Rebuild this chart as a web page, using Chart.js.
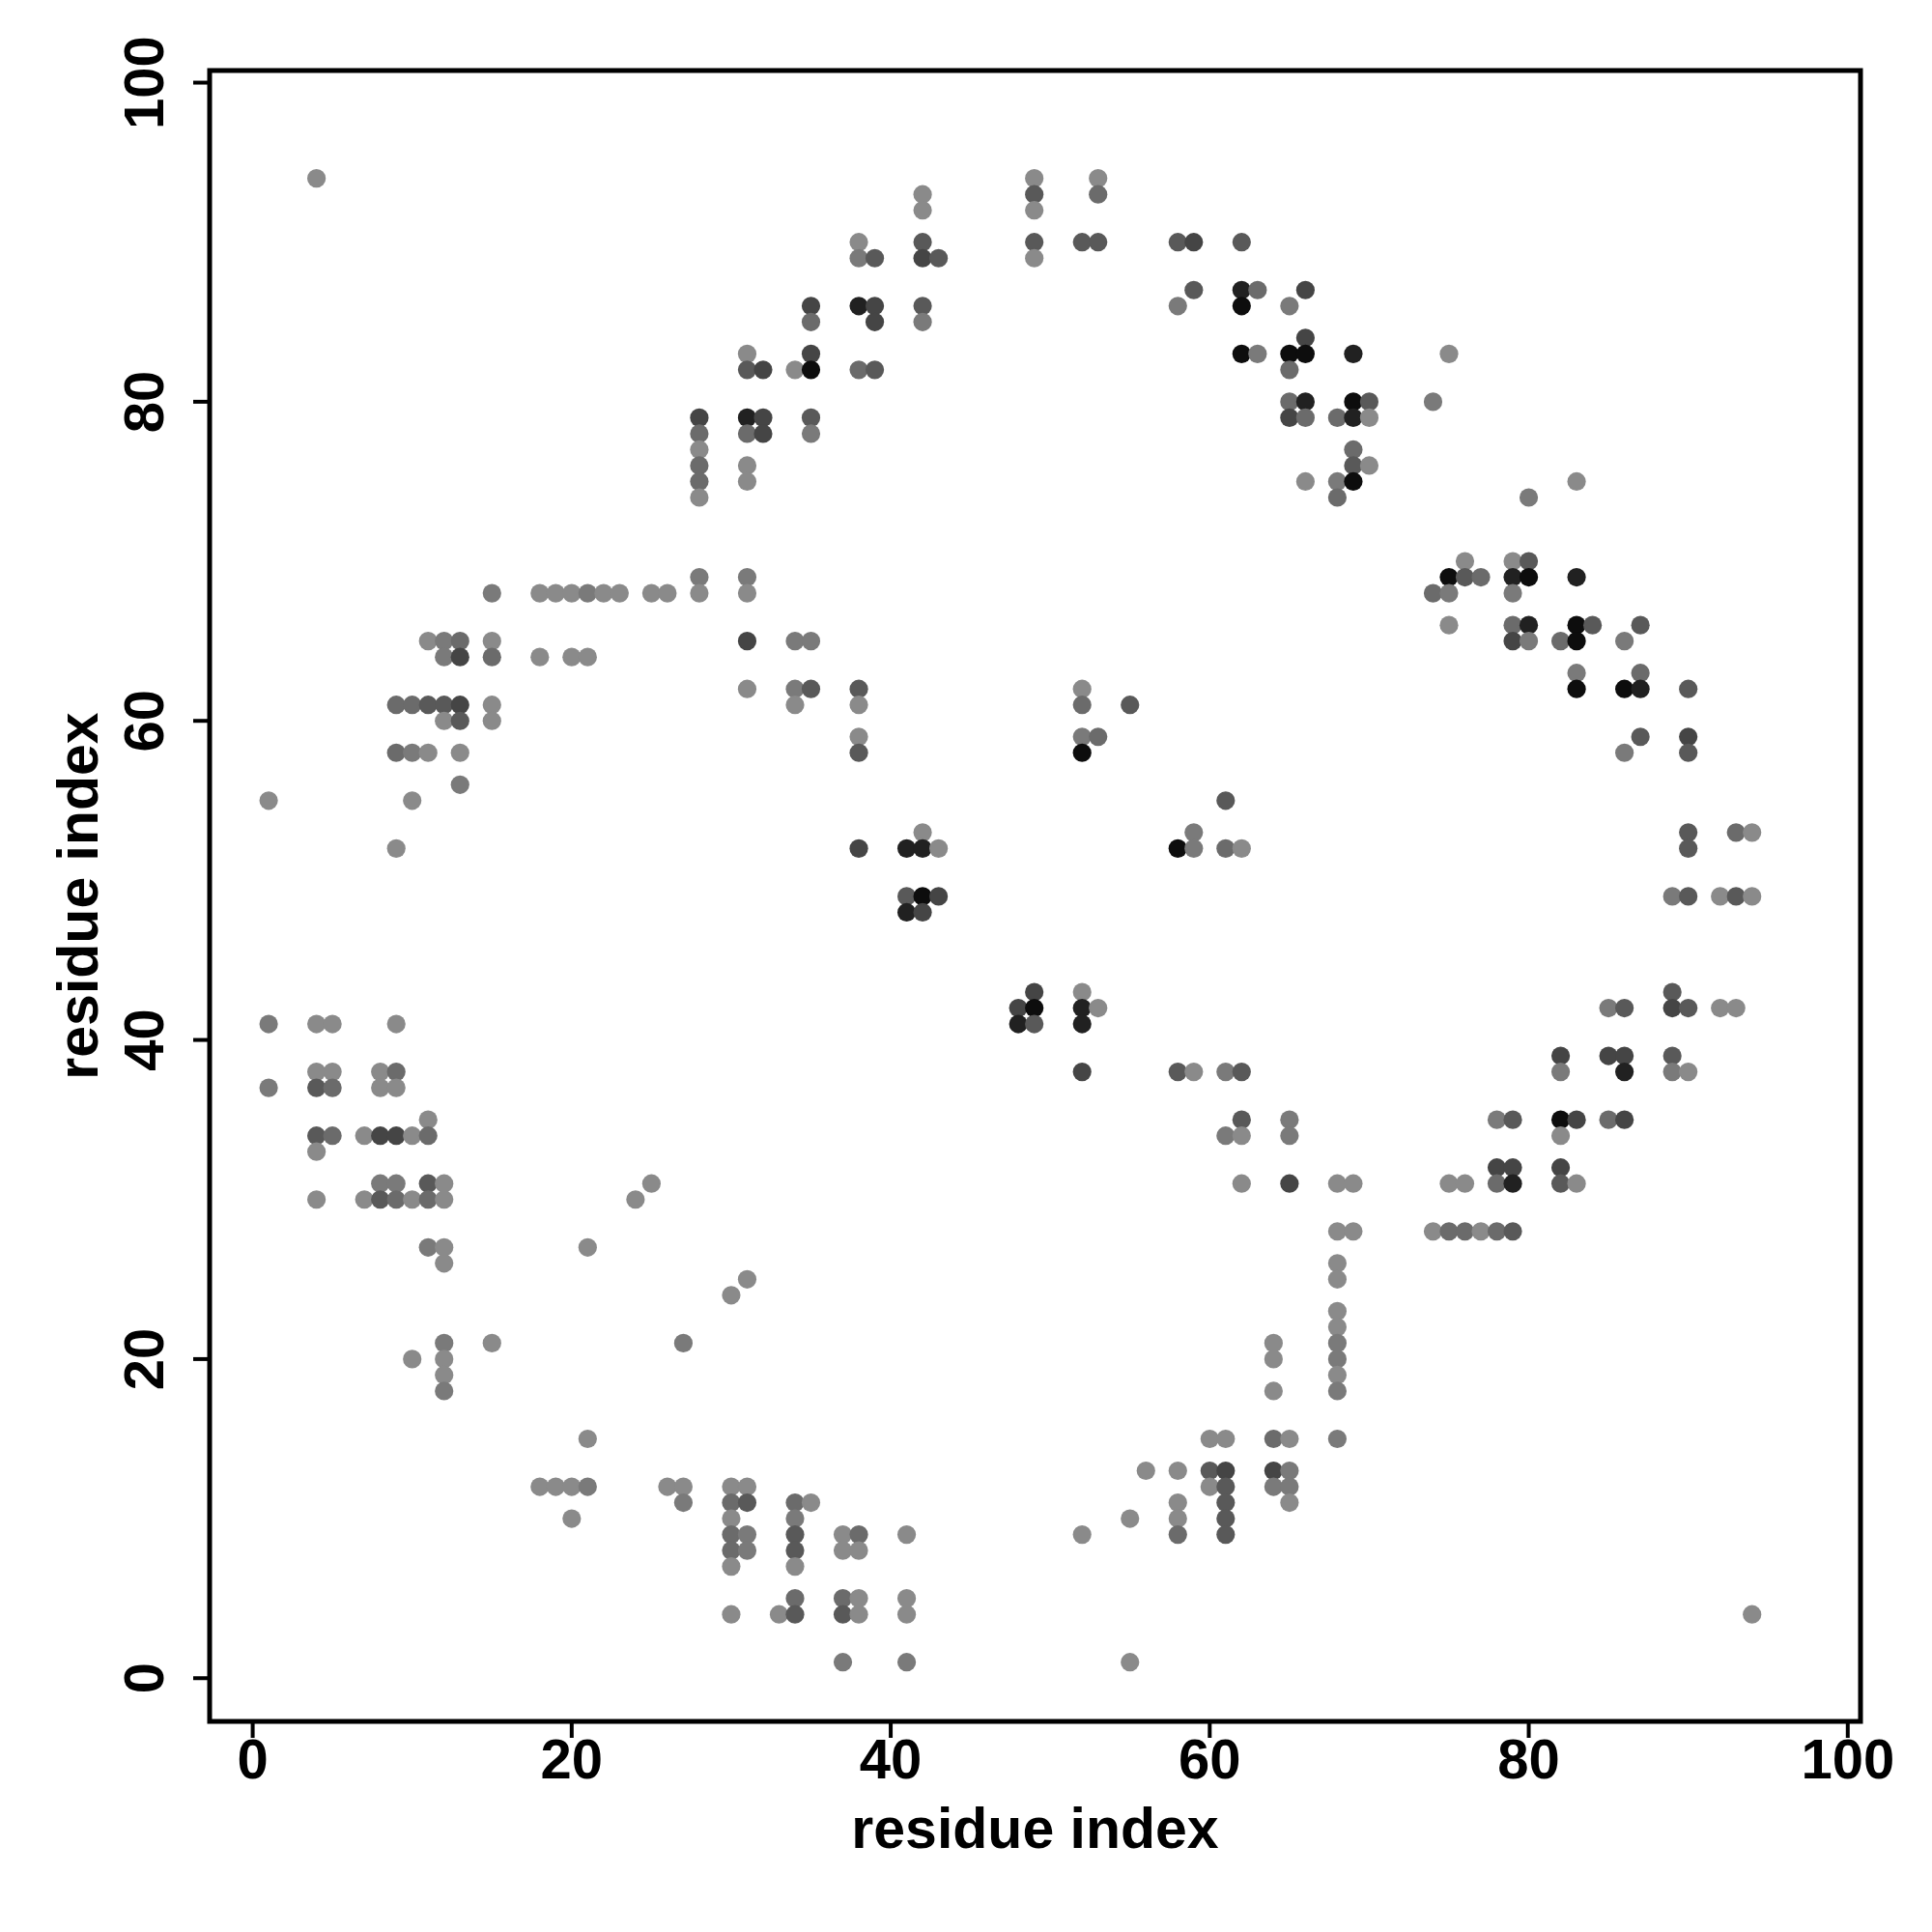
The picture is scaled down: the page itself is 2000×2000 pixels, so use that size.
<!DOCTYPE html>
<html><head><meta charset="utf-8">
<script src="https://cdn.jsdelivr.net/npm/chart.js@4/dist/chart.umd.min.js"></script>
<style>html,body{margin:0;padding:0;background:#fff;}#wrap{width:2000px;height:2000px;}</style>
</head><body><div id="wrap"><canvas id="c" width="2000" height="2000"></canvas></div>
<script>
const xTicks = [0, 20, 40, 60, 80, 100];
const yTicks = [0, 20, 40, 60, 80, 100];
const xTitle = "residue index";
const yTitle = "residue index";

// residue i (x)
const contactI = [
1,1,1,
4,4,4,4,4,4,4,
5,5,5,5,
7,7,
8,8,8,8,8,
9,9,9,9,9,9,9,9,9,
10,10,10,10,10,10,
11,11,11,11,11,11,11,11,
12,12,12,12,12,12,12,12,12,12,12,12,
13,13,13,13,13,13,
15,15,15,15,15,15,
18,18,18,
19,19,
20,20,20,20,
21,21,21,21,21,
22,23,24,
25,25,
26,26,
27,27,27,
28,28,28,28,28,28,28,28,
30,30,30,30,30,30,30,30,
31,31,31,31,31,31,31,31,31,31,31,31,31,31,31,
32,32,32,
33,
34,34,34,34,34,34,34,34,34,34,34,
35,35,35,35,35,35,35,35,35,
37,37,37,37,37,
38,38,38,38,38,38,38,38,38,38,38,38,38,
39,39,39,39,
41,41,41,41,41,41,41,
42,42,42,42,42,42,42,42,42,42,
43,43,43,
48,48,
49,49,49,49,49,49,49,49,
52,52,52,52,52,52,52,52,52,52,
53,53,53,53,53,
55,55,55,
56,
58,58,58,58,58,58,58,58,
59,59,59,59,59,
60,60,60,
61,61,61,61,61,61,61,61,61,61,
62,62,62,62,62,62,62,62,62,
63,63,
64,64,64,64,64,64,
65,65,65,65,65,65,65,65,65,65,65,65,
66,66,66,66,66,66,
68,68,68,68,68,68,68,68,68,68,68,68,68,68,
69,69,69,69,69,69,69,69,
70,70,70,
74,74,74,
75,75,75,75,75,75,
76,76,76,76,
77,77,
78,78,78,78,
79,79,79,79,79,79,79,79,79,
80,80,80,80,80,
82,82,82,82,82,82,82,
83,83,83,83,83,83,83,83,
84,
85,85,85,
86,86,86,86,86,86,86,
87,87,87,87,
89,89,89,89,89,
90,90,90,90,90,90,90,90,
92,92,
93,93,93,
94,94,94
];
// residue j (y)
const contactJ = [
55,41,37,
94,41,38,37,34,33,30,
41,38,37,34,
34,30,
38,37,34,31,30,
61,58,52,41,38,37,34,31,30,
61,58,55,34,30,20,
65,61,58,35,34,31,30,27,
65,64,61,60,31,30,27,26,21,20,19,18,
65,64,61,60,58,56,
68,65,64,61,60,21,
68,64,12,
68,12,
68,64,12,10,
68,64,27,15,12,
68,68,30,
68,31,
68,12,
21,12,11,
79,78,77,76,75,74,69,68,
24,12,11,10,9,8,7,4,
83,82,79,78,76,75,69,68,65,62,25,12,11,9,8,
82,79,78,
4,
82,65,62,61,11,10,9,8,7,5,4,
86,85,83,82,79,78,65,62,11,
9,8,5,4,1,
90,89,86,82,62,61,59,58,52,9,8,5,4,
89,86,85,82,
52,49,48,9,5,4,1,
93,92,90,89,86,85,53,52,49,48,
89,52,49,
42,41,
94,93,92,90,89,43,42,41,
90,62,61,59,58,43,42,41,38,9,
94,93,90,59,42,
61,10,1,
13,
90,86,52,38,13,11,10,9,
90,87,53,52,38,
15,13,12,
55,52,38,34,15,13,12,11,10,9,
90,87,86,83,52,38,35,34,31,
87,83,
21,20,18,15,13,12,
86,83,82,80,79,35,34,31,15,13,12,11,
87,84,83,80,79,75,
79,75,74,31,28,26,25,23,22,21,20,19,18,15,
83,80,79,77,76,75,31,28,
80,79,76,
80,68,28,
83,69,68,66,31,28,
70,69,31,28,
69,28,
35,32,31,28,
70,69,68,66,65,35,32,31,28,
74,70,69,66,65,
65,39,38,35,34,32,31,
75,69,66,65,63,62,35,31,
66,
42,39,35,
65,62,58,42,39,38,35,
66,63,62,59,
49,43,42,39,38,
62,59,58,53,52,49,42,38,
49,42,
53,49,42,
53,49,4
];
// contact strength (0..1), shown as grey level
const contactP = [
.46,.52,.52,
.46,.46,.46,.65,.65,.46,.46,
.46,.46,.58,.58,
.46,.46,
.46,.46,.73,.52,.65,
.58,.58,.46,.46,.58,.46,.73,.52,.58,
.58,.52,.46,.46,.46,.46,
.46,.65,.46,.46,.58,.65,.58,.52,
.52,.52,.65,.46,.46,.46,.46,.46,.52,.46,.46,.52,
.58,.73,.73,.65,.46,.52,
.52,.46,.58,.46,.46,.46,
.46,.46,.46,
.46,.46,
.46,.46,.46,.46,
.52,.46,.46,.46,.52,
.46,.46,.46,
.46,.46,
.46,.46,
.52,.46,.52,
.73,.58,.46,.58,.58,.46,.52,.46,
.46,.46,.58,.46,.58,.58,.46,.46,
.46,.65,.87,.58,.46,.46,.52,.46,.73,.46,.46,.46,.65,.52,.52,
.73,.73,.73,
.46,
.46,.52,.52,.46,.58,.52,.65,.65,.46,.58,.65,
.73,.58,.73,.95,.65,.52,.52,.65,.46,
.46,.46,.58,.65,.52,
.46,.52,.87,.58,.65,.46,.46,.65,.73,.58,.46,.46,.46,
.65,.73,.73,.65,
.87,.65,.87,.46,.46,.46,.52,
.46,.46,.65,.73,.65,.52,.46,.87,.95,.73,
.65,.46,.73,
.73,.87,
.46,.65,.46,.65,.46,.73,.95,.65,
.65,.46,.58,.52,.95,.46,.87,.87,.73,.46,
.46,.58,.65,.58,.46,
.65,.46,.46,
.46,
.65,.52,.95,.65,.46,.46,.46,.58,
.73,.65,.52,.52,.46,
.46,.65,.46,
.65,.58,.52,.52,.46,.73,.65,.65,.65,.65,
.65,.87,.95,.95,.46,.65,.65,.46,.46,
.58,.52,
.46,.46,.46,.58,.73,.52,
.52,.95,.58,.58,.73,.52,.52,.73,.46,.52,.52,.46,
.73,.73,.95,.87,.58,.46,
.58,.52,.58,.46,.46,.46,.46,.46,.46,.52,.52,.46,.52,.52,
.87,.95,.87,.58,.65,.95,.46,.46,
.65,.46,.46,
.52,.58,.46,
.46,.95,.52,.46,.46,.58,
.46,.65,.46,.58,
.58,.46,
.52,.73,.58,.58,
.46,.87,.52,.58,.73,.65,.73,.87,.65,
.52,.65,.95,.87,.52,
.58,.73,.52,.95,.46,.73,.65,
.46,.87,.95,.95,.52,.95,.73,.46,
.65,
.52,.73,.58,
.52,.95,.52,.65,.73,.87,.73,
.65,.58,.87,.65,
.52,.65,.73,.65,.52,
.65,.73,.65,.65,.65,.65,.65,.46,
.46,.46,
.58,.65,.46,
.46,.46,.46
];

const n = Math.min(contactI.length, contactJ.length, contactP.length);
const pts = [], cols = [];
for (let k = 0; k < n; k++) {
  pts.push({x: contactI[k], y: contactJ[k]});
  const g = Math.round(255 * (1 - contactP[k]));
  cols.push(`rgb(${g},${g},${g})`);
}

const FONT = '"Liberation Sans", Arial, Helvetica, sans-serif';
const framePlugin = {
  id: 'frame',
  afterDraw(chart) {
    const {ctx, chartArea: a, scales: {x, y}} = chart;
    ctx.save();
    ctx.strokeStyle = '#000';
    ctx.fillStyle = '#000';
    ctx.lineWidth = 5;
    ctx.strokeRect(a.left, a.top, a.right - a.left, a.bottom - a.top);
    ctx.lineWidth = 4;
    ctx.font = 'bold 58px ' + FONT;
    ctx.textAlign = 'center';
    ctx.textBaseline = 'alphabetic';
    xTicks.forEach(v => {
      const px = x.getPixelForValue(v);
      ctx.beginPath(); ctx.moveTo(px, a.bottom); ctx.lineTo(px, a.bottom + 17); ctx.stroke();
      ctx.fillText(String(v), px, 1841);
    });
    yTicks.forEach(v => {
      const py = y.getPixelForValue(v);
      ctx.beginPath(); ctx.moveTo(a.left, py); ctx.lineTo(a.left - 17, py); ctx.stroke();
      ctx.save(); ctx.translate(169, py); ctx.rotate(-Math.PI / 2);
      ctx.fillText(String(v), 0, 0); ctx.restore();
    });
    ctx.font = 'bold 59px ' + FONT;
    ctx.fillText(xTitle, (a.left + a.right) / 2, 1913);
    ctx.save(); ctx.translate(101, (a.top + a.bottom) / 2); ctx.rotate(-Math.PI / 2);
    ctx.fillText(yTitle, 0, 0); ctx.restore();
    ctx.restore();
  }
};

new Chart(document.getElementById('c'), {
  type: 'scatter',
  data: { datasets: [{ data: pts, pointBackgroundColor: cols, pointBorderWidth: 0, pointRadius: 9.6, pointHoverRadius: 9.6 }] },
  options: {
    responsive: false, devicePixelRatio: 1, animation: false, events: [],
    layout: { padding: { left: 217, right: 74, top: 73, bottom: 218 } },
    plugins: { legend: { display: false }, tooltip: { enabled: false } },
    scales: {
      x: { type: 'linear', min: -2.7, max: 100.8, display: false },
      y: { type: 'linear', min: -2.71, max: 100.76, display: false }
    }
  },
  plugins: [framePlugin]
});
</script></body></html>
